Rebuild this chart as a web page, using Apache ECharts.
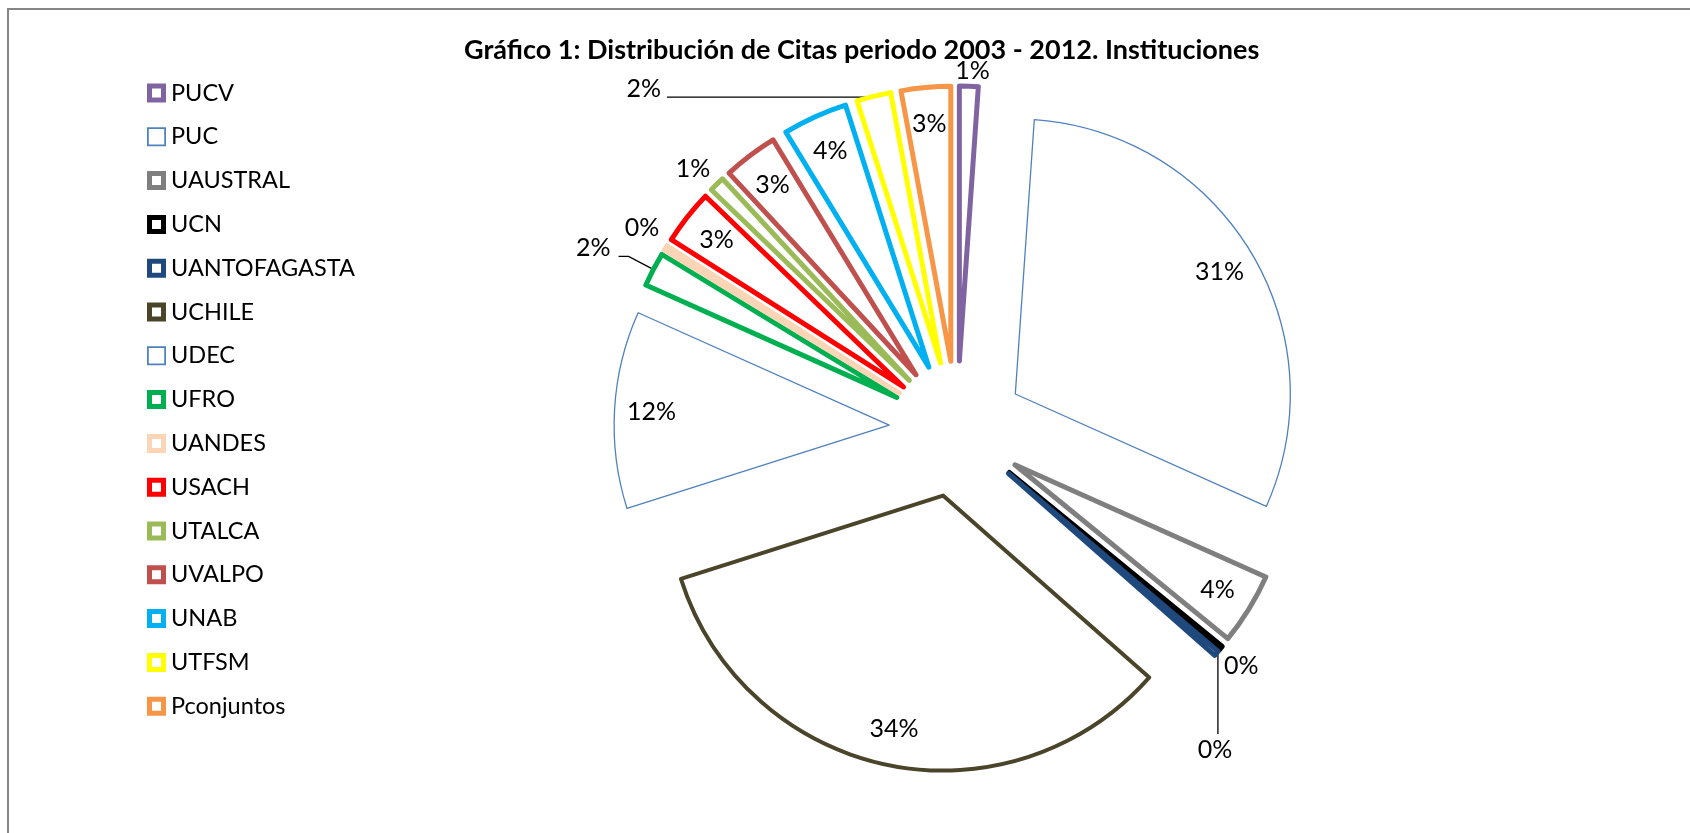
<!DOCTYPE html>
<html>
<head>
<meta charset="utf-8">
<script src="https://cdn.jsdelivr.net/npm/echarts@6/dist/echarts.min.js"></script>
<style>
html, body { margin: 0; padding: 0; background: #fff; }
#main { width: 1690px; height: 833px; }
</style>
</head>
<body>
<div id="main"></div>
<script>
// datos (porcentaje de citas por institucion)
var institutions = ['PUCV', 'PUC', 'UAUSTRAL', 'UCN', 'UANTOFAGASTA', 'UCHILE', 'UDEC', 'UFRO',
    'UANDES', 'USACH', 'UTALCA', 'UVALPO', 'UNAB', 'UTFSM', 'Pconjuntos'];
var shares = [1.1, 30.6, 4.2, 0.3, 0.3, 33.6, 11.6, 2.0, 0.3, 3.2, 0.9, 3.2, 3.8, 2.0, 2.9];

// estilo
var colors = ['#8064A2', '#4F81BD', '#7F7F7F', '#000000', '#1F497D', '#4A452A', '#4F81BD', '#00B050',
    '#FBD5B5', '#FF0000', '#9BBB59', '#C0504D', '#00B0F0', '#FFFF00', '#F79646'];
var thin = ['PUC', 'UDEC'];
var font = 'Lato';
// marco cuadrado para la leyenda (grueso y delgado)
var thickIcon = 'path://M0 0H19V19H0Z M5 5V14H14V5Z';
var thinIcon = 'path://M1.5 1.5H17.5V17.5H1.5Z M3 3V16H16V3Z';

// etiquetas fuera del sector (largo de linea, separacion, subida del texto)
var outside = {
    PUCV: { len: 17, len2: 0, gap: -14 },
    UCN: { len: 30, len2: 0, gap: -18 },
    UANTOFAGASTA: { len: 0, len2: 0, gap: 0, line: true, vertical: true },
    UFRO: { len: 30, len2: 10, gap: 8, line: true, lift: 8 },
    UANDES: { len: 40, len2: 0, gap: -26 },
    UTALCA: { len: 24, len2: 0, gap: -9 },
    UTFSM: { len: 1, len2: 207, gap: 6, line: true, lift: 8 }
};

var chartDom = document.getElementById('main');
var myChart = echarts.init(chartDom);
var option;

var pieData = institutions.map(function (n, i) {
    return {
        name: n,
        value: shares[i],
        selected: true,
        itemStyle: {
            color: '#fff',
            borderColor: colors[i],
            borderWidth: thin.indexOf(n) >= 0 ? 1.3 : (n === 'UCHILE' ? 4 : 5)
        }
    };
});

var labelData = institutions.map(function (n, i) {
    var item = { name: n, value: shares[i] };
    var o = outside[n];
    if (o) {
        item.label = { position: 'outside', distanceToLabelLine: o.gap };
        item.labelLine = { show: !!o.line, length: o.len, length2: o.len2 };
    }
    return item;
});

option = {
    backgroundColor: '#fff',
    animation: false,
    graphic: [{
        type: 'rect',
        silent: true,
        z: -10,
        shape: { x: 8, y: 9, width: 1800, height: 1000 },
        style: { fill: 'none', stroke: '#868686', lineWidth: 2 }
    }],
    title: {
        text: 'Gráfico 1: Distribución de Citas periodo 2003 - 2012. Instituciones',
        left: 459,
        top: 32,
        textStyle: { fontFamily: font, fontWeight: 'bold', fontSize: 27, color: '#000' }
    },
    legend: {
        orient: 'vertical',
        left: 142,
        top: 76,
        itemWidth: 19,
        itemHeight: 19,
        itemGap: 19.8,
        selectedMode: false,
        itemStyle: { borderWidth: 0 },
        textStyle: { fontFamily: font, fontSize: 23.5, color: '#000', lineHeight: 24 },
        data: institutions.map(function (n, i) {
            return {
                name: n,
                icon: thin.indexOf(n) >= 0 ? thinIcon : thickIcon,
                itemStyle: { color: colors[i], borderWidth: 0 }
            };
        })
    },
    series: [
        {
            name: 'Citas',
            type: 'pie',
            center: [957, 429],
            radius: 275,
            startAngle: 90,
            clockwise: true,
            selectedMode: 'multiple',
            selectedOffset: 68,
            avoidLabelOverlap: false,
            label: { show: false },
            labelLine: { show: false },
            emphasis: { disabled: true },
            data: pieData
        },
        {
            // serie solo para las etiquetas
            name: 'Etiquetas',
            type: 'pie',
            center: [957, 429],
            radius: [265, 341],
            startAngle: 90,
            clockwise: true,
            silent: true,
            avoidLabelOverlap: false,
            itemStyle: { color: 'rgba(0,0,0,0)', borderWidth: 0 },
            emphasis: { disabled: true },
            label: {
                show: true,
                position: 'inside',
                fontFamily: font,
                fontSize: 25,
                color: '#000',
                formatter: function (p) { return Math.round(p.percent) + '%'; }
            },
            labelLine: {
                show: false,
                lineStyle: { color: '#000', width: 1.3 }
            },
            labelLayout: function (p) {
                var o = outside[institutions[p.dataIndex]];
                if (!o || !p.labelLinePoints) {
                    return {};
                }
                if (o.vertical) {
                    var a = p.labelLinePoints[0];
                    return {
                        x: a[0],
                        y: a[1] + 98,
                        align: 'center',
                        verticalAlign: 'middle',
                        labelLinePoints: [[a[0] + 3, a[1] - 5], [a[0] + 3, a[1] + 82], [a[0] + 3, a[1] + 82]]
                    };
                }
                if (o.lift) {
                    return { dy: -o.lift, labelLinePoints: p.labelLinePoints };
                }
                return {};
            },
            data: labelData
        }
    ]
};

option && myChart.setOption(option);
</script>
</body>
</html>
